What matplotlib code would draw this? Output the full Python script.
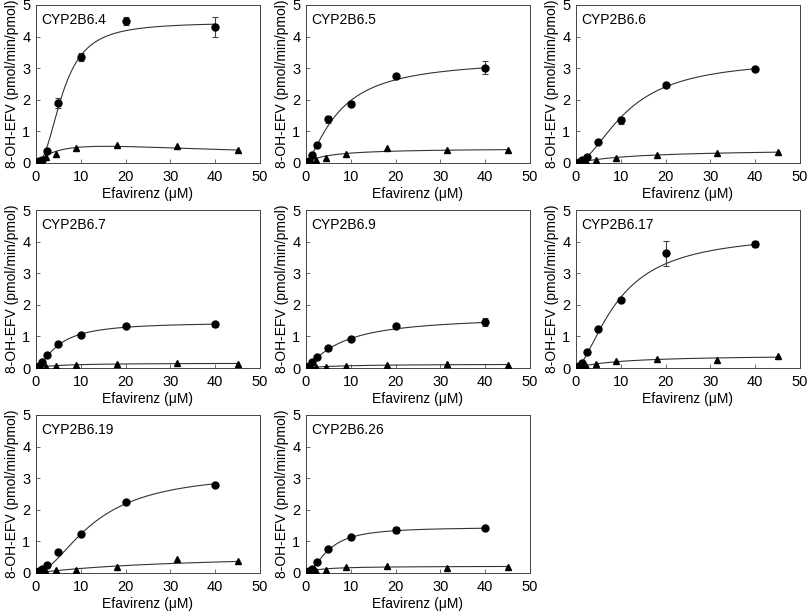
import matplotlib
matplotlib.use('Agg')

import matplotlib.pyplot as plt
import numpy as np

plt.rcParams['font.family'] = ['Liberation Sans', 'DejaVu Sans']

# Substrate concentrations (uM)
conc_circ = [0.3, 0.6, 1.25, 2.5, 5, 10, 20, 40]
conc_tri = [0.5, 1.1, 2.25, 4.5, 9, 18, 31.5, 45]

variants = ['CYP2B6.4', 'CYP2B6.5', 'CYP2B6.6', 'CYP2B6.7',
            'CYP2B6.9', 'CYP2B6.17', 'CYP2B6.19', 'CYP2B6.26']

# 8-OH-EFV formation, circles (mean) and error bars
circ_4 = [0.02, 0.05, 0.08, 0.38, 1.90, 3.35, 4.50, 4.30]
circ_4_err = [0.01, 0.01, 0.02, 0.05, 0.15, 0.12, 0.12, 0.32]
circ_5 = [0.02, 0.05, 0.25, 0.57, 1.38, 1.88, 2.75, 3.02]
circ_5_err = [0.01, 0.01, 0.02, 0.04, 0.10, 0.08, 0.05, 0.20]
circ_6 = [0.01, 0.03, 0.08, 0.20, 0.67, 1.35, 2.48, 2.98]
circ_6_err = [0.01, 0.01, 0.01, 0.02, 0.04, 0.10, 0.04, 0.04]
circ_7 = [0.01, 0.05, 0.18, 0.40, 0.75, 1.05, 1.33, 1.38]
circ_7_err = [0.01, 0.01, 0.02, 0.02, 0.03, 0.03, 0.04, 0.08]
circ_9 = [0.02, 0.07, 0.18, 0.35, 0.63, 0.92, 1.33, 1.46]
circ_9_err = [0.01, 0.01, 0.02, 0.02, 0.03, 0.04, 0.04, 0.13]
circ_17 = [0.02, 0.05, 0.15, 0.50, 1.22, 2.15, 3.63, 3.93]
circ_17_err = [0.01, 0.01, 0.02, 0.03, 0.06, 0.05, 0.40, 0.10]
circ_19 = [0.02, 0.05, 0.12, 0.25, 0.68, 1.23, 2.25, 2.80]
circ_19_err = [0.01, 0.01, 0.01, 0.02, 0.03, 0.03, 0.06, 0.05]
circ_26 = [0.02, 0.05, 0.12, 0.35, 0.75, 1.13, 1.37, 1.43]
circ_26_err = [0.01, 0.01, 0.01, 0.02, 0.03, 0.04, 0.10, 0.06]

# Triangles
tri_4 = [0.03, 0.08, 0.20, 0.30, 0.47, 0.58, 0.53, 0.42]
tri_5 = [0.02, 0.03, 0.10, 0.15, 0.28, 0.47, 0.42, 0.42]
tri_6 = [0.01, 0.02, 0.05, 0.10, 0.17, 0.25, 0.32, 0.35]
tri_7 = [0.01, 0.01, 0.03, 0.05, 0.10, 0.13, 0.17, 0.14]
tri_9 = [0.01, 0.02, 0.03, 0.04, 0.07, 0.08, 0.14, 0.11]
tri_17 = [0.01, 0.03, 0.07, 0.12, 0.22, 0.28, 0.25, 0.38]
tri_19 = [0.01, 0.02, 0.04, 0.08, 0.10, 0.20, 0.45, 0.37]
tri_26 = [0.01, 0.03, 0.05, 0.10, 0.18, 0.22, 0.16, 0.19]

# Fitted parameters: Hill (Vmax, S50, n) for circles;
# triangles: (Vmax, Km, Ki) substrate inhibition, Ki=None -> Michaelis-Menten
hill_vmax = [4.45, 3.30, 3.30, 1.45, 1.65, 4.30, 3.20, 1.45]
hill_s50 = [6.0, 7.5, 11.5, 5.0, 8.0, 9.5, 13.0, 5.0]
hill_n = [2.3, 1.4, 1.8, 1.5, 1.2, 1.6, 1.8, 1.8]
tri_vmax = [1.0, 0.47, 0.45, 0.16, 0.13, 0.42, 0.65, 0.22]
tri_km = [7.0, 5.0, 14.0, 5.0, 8.0, 10.0, 35.0, 3.0]
tri_ki = [35.0, None, None, None, None, None, None, None]

circ_all = [circ_4, circ_5, circ_6, circ_7, circ_9, circ_17, circ_19, circ_26]
circ_err_all = [circ_4_err, circ_5_err, circ_6_err, circ_7_err,
                circ_9_err, circ_17_err, circ_19_err, circ_26_err]
tri_all = [tri_4, tri_5, tri_6, tri_7, tri_9, tri_17, tri_19, tri_26]

W, H = 810, 614
fig = plt.figure(figsize=(W / 100, H / 100), dpi=100)

lefts = [36, 306, 576]
tops = [5, 210, 415]
pw, ph = 224, 158

for i, name in enumerate(variants):
    r, c = divmod(i, 3)
    ax = fig.add_axes([lefts[c] / W, 1 - (tops[r] + ph) / H, pw / W, ph / H])

    # fitted curves
    xs = np.linspace(0, 40, 300)
    yc = hill_vmax[i] * xs ** hill_n[i] / (hill_s50[i] ** hill_n[i] + xs ** hill_n[i])
    ax.plot(xs, yc, color='#333333', lw=0.8, zorder=2)
    xt = np.linspace(0, 45, 300)
    if tri_ki[i] is None:
        yt = tri_vmax[i] * xt / (tri_km[i] + xt)
    else:
        yt = tri_vmax[i] * xt / (tri_km[i] + xt + xt ** 2 / tri_ki[i])
    ax.plot(xt, yt, color='#333333', lw=0.8, zorder=2)

    ax.errorbar(conc_circ, circ_all[i], yerr=circ_err_all[i], fmt='o',
                color='black', ms=5, elinewidth=0.8, ecolor='#444444',
                capsize=2.5, capthick=0.8, zorder=3)
    ax.plot(conc_tri, tri_all[i], '^', color='black', ms=5, zorder=3)

    ax.set_xlim(0, 50)
    ax.set_ylim(0, 5)
    ax.set_xticks([0, 10, 20, 30, 40, 50])
    ax.set_yticks([0, 1, 2, 3, 4, 5])
    ax.tick_params(direction='in', length=3, width=0.6, labelsize=10.5,
                   color='#555555')
    ax.tick_params(axis='x', pad=5)
    ax.tick_params(axis='y', pad=4)
    for s in ax.spines.values():
        s.set_linewidth(0.7)
        s.set_color('#444444')
    ax.set_xlabel('Efavirenz (\u03bcM)', fontsize=10, labelpad=2)
    ax.set_ylabel('8-OH-EFV (pmol/min/pmol)', fontsize=10, labelpad=2)
    ax.text(0.025, 0.95, name, transform=ax.transAxes, ha='left', va='top',
            fontsize=10)

plt.savefig('out.png', dpi=100)
plt.close(fig)
